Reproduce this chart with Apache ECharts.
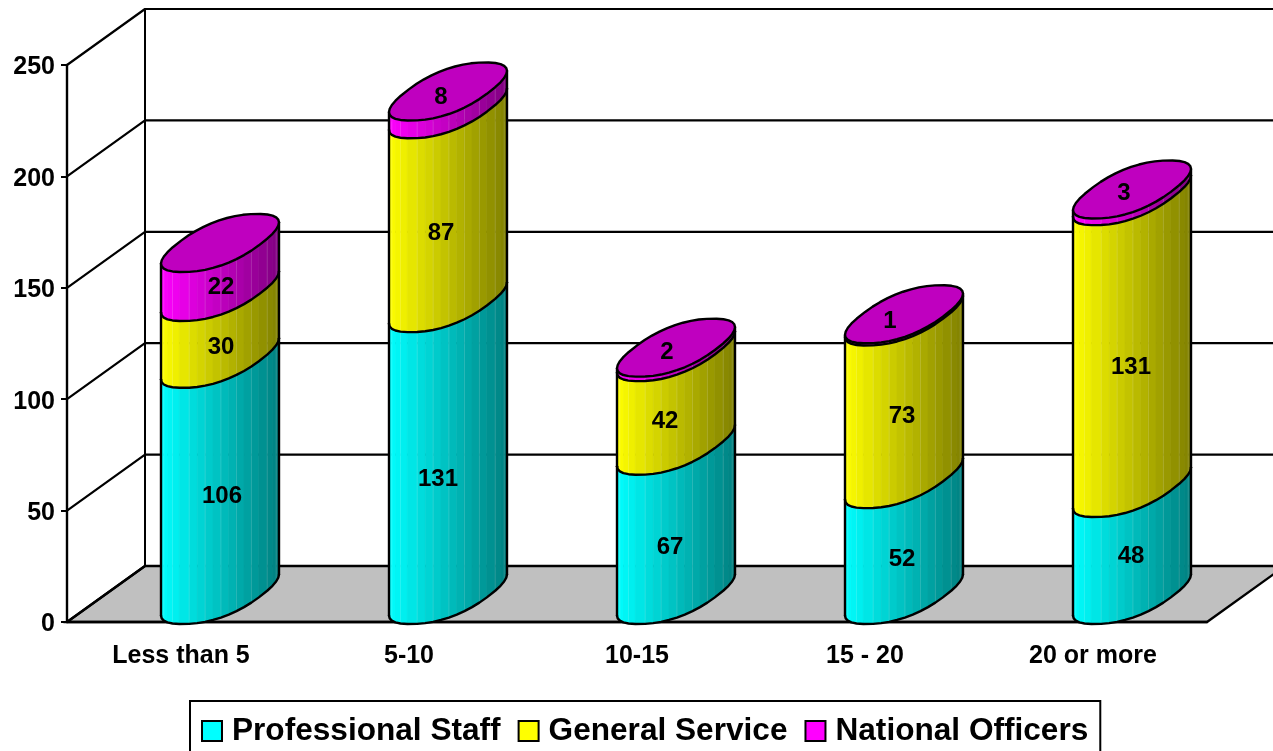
<!DOCTYPE html>
<html>
<head>
<meta charset="utf-8">
<style>html,body{margin:0;padding:0;background:#fff}#c{width:1273px;height:751px}</style>
<script src="https://cdn.jsdelivr.net/npm/echarts@6/dist/echarts.min.js"></script>
</head>
<body>
<div id="c"></div>
<script>
const categories = ['Less than 5', '5-10', '10-15', '15 - 20', '20 or more'];
const professionalStaff = [106, 131, 67, 52, 48];
const generalService = [30, 87, 42, 73, 131];
const nationalOfficers = [22, 8, 2, 1, 3];
const yTicks = [0, 50, 100, 150, 200, 250];

// pseudo-3D depth of the chart box (pixels)
const DEPTH_X = 78, DEPTH_Y = 56;
const CYL_W = 88, CYL_HALF_X = 59, ELL_HALF_Y = 29, ELL_LIFT = 27, ROUND = 0.85;
const STRIPS = 20;
// hand placement of the value labels relative to each segment's middle
const nudgeProfessional = [[2,-8],[-10,3],[-6,0],[-2,-5],[-1,-12]];
const nudgeGeneral = [[1,-5],[-7,0],[-11,-5],[-2,-8],[-1,-2]];
const nudgeNational = [[1,-7],[-7,-30],[-9,-25],[-14,-21],[-8,-26]];

const FONT = '"Liberation Sans", Arial, sans-serif';
const LINE = {stroke:'#000', lineWidth:2, fill:null, lineJoin:'round'};
const CYL_LINE = {stroke:'#000', lineWidth:2.4, fill:null, lineJoin:'round', lineCap:'round'};

function spow(v){ return Math.sign(v)*Math.pow(Math.abs(v), ROUND); }
function rawX(t){ return CYL_W/2*spow(Math.cos(t)) + DEPTH_X/2*spow(Math.sin(t)); }
// find where the rounded outline reaches its left and right extremes
let tLeft = 0, maxRaw = -1;
for(let k=0;k<7200;k++){
  const t = Math.PI + k/7200*Math.PI/2, x = -rawX(t);
  if(x>maxRaw){maxRaw=x;tLeft=t;}
}
const scaleX = CYL_HALF_X/maxRaw;
function ellipsePoint(cx, cy, t){
  return [cx + rawX(t)*scaleX, cy - ELL_HALF_Y*spow(Math.sin(t))];
}
function shade(rgb, f){
  const k = 1 - 0.5*f;
  return 'rgb(' + rgb.map(c => Math.round(c*k)).join(',') + ')';
}

function frameItem(params, api){
  const cs = params.coordSys, L = cs.x, R = cs.x + cs.width;
  const y0 = api.coord([0, 0])[1];
  const kids = [];
  kids.push({type:'polygon', z2:0, shape:{points:[[L,y0],[L+DEPTH_X,y0-DEPTH_Y],[R+DEPTH_X,y0-DEPTH_Y],[R,y0]]},
    style:{fill:'#c0c0c0', stroke:'#000', lineWidth:2.4}});
  yTicks.forEach(v => {
    const y = api.coord([0, v])[1];
    kids.push({type:'polyline', z2:1, shape:{points:[[L,y],[L+DEPTH_X,y-DEPTH_Y],[R+DEPTH_X,y-DEPTH_Y]]}, style:Object.assign({},LINE,{lineWidth:2.2})});
  });
  const yTop = api.coord([0, yTicks[yTicks.length-1]])[1];
  kids.push({type:'line', z2:1, shape:{x1:L+DEPTH_X,y1:y0-DEPTH_Y,x2:L+DEPTH_X,y2:yTop-DEPTH_Y}, style:LINE});
  return {type:'group', children:kids};
}

function cylinderSeries(name, values, bases, rgb, nudges, hasCap){
  return {
    name, type:'custom', coordinateSystem:'cartesian2d', z:3, clip:false, silent:true,
    itemStyle:{color:'rgb('+rgb.join(',')+')'},
    data: values.map((v,i) => [i, bases[i], v]),
    encode:{x:0, y:[1,2]},
    renderItem(params, api){
      const i = api.value(0), base = api.value(1), v = api.value(2);
      const p0 = api.coord([i, base]), p1 = api.coord([i, base+v]);
      const cx = p0[0] + DEPTH_X/2, cyB = p0[1] - ELL_LIFT, cyT = p1[1] - ELL_LIFT;
      const kids = [], botCurve = [], topCurve = [];
      for(let s=0;s<=STRIPS;s++){
        const t = tLeft + Math.PI*s/STRIPS;
        botCurve.push(ellipsePoint(cx,cyB,t));
        topCurve.push(ellipsePoint(cx,cyT,t));
      }
      for(let s=0;s<STRIPS;s++){
        const f = ((botCurve[s][0]+botCurve[s+1][0])/2 - (cx-CYL_HALF_X))/(2*CYL_HALF_X);
        const col = shade(rgb,f);
        kids.push({type:'polygon', z2:1, shape:{points:[botCurve[s],botCurve[s+1],topCurve[s+1],topCurve[s]]},
          style:{fill:col, stroke:col, lineWidth:0.7}});
        if(s>1 && s%2===0){
          kids.push({type:'line', z2:1.5, shape:{x1:botCurve[s][0],y1:botCurve[s][1],x2:topCurve[s][0],y2:topCurve[s][1]},
            style:{stroke:'rgba(255,255,255,0.14)', lineWidth:1}});
        }
      }
      kids.push({type:'polyline', z2:2, shape:{points:botCurve}, style:CYL_LINE});
      kids.push({type:'line', z2:2, shape:{x1:botCurve[0][0],y1:botCurve[0][1],x2:topCurve[0][0],y2:topCurve[0][1]}, style:CYL_LINE});
      const last = STRIPS;
      kids.push({type:'line', z2:2, shape:{x1:botCurve[last][0],y1:botCurve[last][1],x2:topCurve[last][0],y2:topCurve[last][1]}, style:CYL_LINE});
      if(hasCap){
        const ring = [];
        for(let s=0;s<STRIPS*2;s++) ring.push(ellipsePoint(cx,cyT,tLeft+Math.PI*s/STRIPS));
        kids.push({type:'polygon', z2:3, shape:{points:ring},
          style:{fill:'rgb('+rgb.map(c=>Math.round(c*0.75)).join(',')+')', stroke:'#000', lineWidth:2.4, lineJoin:'round'}});
      }
      const n = nudges[i];
      kids.push({type:'text', z2:5, style:{text:String(v), x:cx+n[0], y:(p0[1]+p1[1])/2+n[1],
        align:'center', verticalAlign:'middle', fill:'#000', font:'bold 24px '+FONT}});
      return {type:'group', children:kids};
    }
  };
}

const sumGen = professionalStaff.map((v,i)=>v+generalService[i]);
const chart = echarts.init(document.getElementById('c'), null, {renderer:'canvas', width:1273, height:751});
chart.setOption({
  animation:false,
  backgroundColor:'#fff',
  grid:{left:67, right:66, top:65, bottom:129, containLabel:false},
  xAxis:{type:'category', data:categories, z:1,
    axisLine:{lineStyle:{color:'#000',width:2.4}},
    axisTick:{length:8, lineStyle:{color:'#000',width:2}},
    axisLabel:{color:'#000', fontFamily:FONT, fontWeight:'bold', fontSize:25, margin:22, interval:0},
    splitLine:{show:false}},
  yAxis:{type:'value', min:0, max:250, interval:50, z:1,
    axisLine:{show:true, lineStyle:{color:'#000',width:2.4}},
    axisTick:{show:true, length:6, lineStyle:{color:'#000',width:2}},
    axisLabel:{color:'#000', fontFamily:FONT, fontWeight:'bold', fontSize:25, margin:12, verticalAlign:'top', padding:[-10,0,0,0]},
    splitLine:{show:false}},
  legend:{
    left:190, top:701, orient:'horizontal', icon:'rect',
    data:['Professional Staff','General Service','National Officers'],
    itemWidth:20, itemHeight:20, itemGap:17,
    itemStyle:{borderColor:'#000', borderWidth:2},
    backgroundColor:'#fff', borderColor:'#000', borderWidth:2,
    padding:[14,12,14,11],
    textStyle:{color:'#000', fontFamily:FONT, fontWeight:'bold', fontSize:31.6, padding:[0,0,0,5]}
  },
  series:[
    {name:'frame', type:'custom', coordinateSystem:'cartesian2d', z:-1, silent:true, clip:false,
      data:[[0,0]], renderItem:frameItem},
    cylinderSeries('Professional Staff', professionalStaff, professionalStaff.map(()=>0), [0,255,255], nudgeProfessional, false),
    cylinderSeries('General Service', generalService, professionalStaff, [255,255,0], nudgeGeneral, false),
    cylinderSeries('National Officers', nationalOfficers, sumGen, [255,0,255], nudgeNational, true)
  ]
});
</script>
</body>
</html>
